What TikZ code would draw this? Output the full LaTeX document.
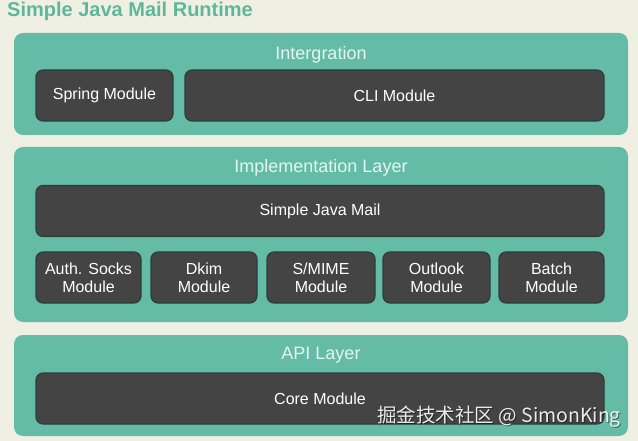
\documentclass[tikz,border=0pt]{standalone}
\usepackage{fontspec}
\setmainfont{Liberation Sans}
\newfontfamily\cjkfont{Noto Sans CJK SC}
\definecolor{bgc}{HTML}{F0EFE3}
\definecolor{panelc}{HTML}{64BCA6}
\definecolor{boxc}{HTML}{454445}
\definecolor{boxedge}{HTML}{2D3D39}
\definecolor{titlec}{HTML}{5DB89B}
\definecolor{headc}{HTML}{E4F6F1}
\tikzset{
  panel/.style={rectangle, rounded corners=9pt, fill=panelc, draw=none, minimum width=614pt, inner sep=0pt},
  modbox/.style={rectangle, rounded corners=7pt, fill=boxc, draw=boxedge, line width=1.2pt, minimum height=51pt, inner sep=0pt, text=white, align=center, font=\fontsize{16}{18}\selectfont},
  header/.style={text=headc, font=\fontsize{18}{20}\selectfont, inner sep=0pt},
}
\begin{document}
\begin{tikzpicture}[x=1pt,y=-1pt]
\fill[bgc] (0,0) rectangle (638,441);
\useasboundingbox (0,0) rectangle (638,441);
\node[anchor=base west, text=titlec, inner sep=0pt, font=\bfseries\fontsize{20}{22}\selectfont] (title) at (7,17) {Simple Java Mail Runtime};
% panels
\node[panel, minimum height=102pt] (p1) at (321,84) {};
\node[panel, minimum height=175pt] (p2) at (321,234.5) {};
\node[panel, minimum height=101pt] (p3) at (321,385.5) {};
% headers
\node[header] (h1) at (321,54.5) {Intergration};
\node[header] (h2) at (321,167.5) {Implementation Layer};
\node[header] (h3) at (321,355.5) {API Layer};
% integration
\node[modbox, minimum width=137pt] (spring) at (104.5,95.5) {Spring Module};
\node[modbox, minimum width=419pt] (cli) at (394.5,95.5) {CLI Module};
% implementation
\node[modbox, minimum width=568pt] (sjm) at (320,211) {Simple Java Mail};
\node[modbox, minimum width=105pt] (auth) at (88.5,277.5) {Auth. Socks\\Module};
\node[modbox, minimum width=106pt] (dkim) at (204,277.5) {Dkim\\Module};
\node[modbox, minimum width=108pt] (smime) at (321,277.5) {S/MIME\\Module};
\node[modbox, minimum width=107pt] (outlook) at (436.5,277.5) {Outlook\\Module};
\node[modbox, minimum width=105pt] (batch) at (551.5,277.5) {Batch\\Module};
% api
\node[modbox, minimum width=568pt] (core) at (320,398.5) {Core Module};
% watermark
\node[anchor=base west, inner sep=0pt, text=black, opacity=0.45, font=\cjkfont\fontsize{19.5}{21}\selectfont] (wms) at (378,423) {掘金技术社区 @ SimonKing};
\node[anchor=base west, inner sep=0pt, text=white, opacity=0.9, font=\cjkfont\fontsize{19.5}{21}\selectfont] (wm) at (377,422) {掘金技术社区 @ SimonKing};
\end{tikzpicture}
\end{document}
